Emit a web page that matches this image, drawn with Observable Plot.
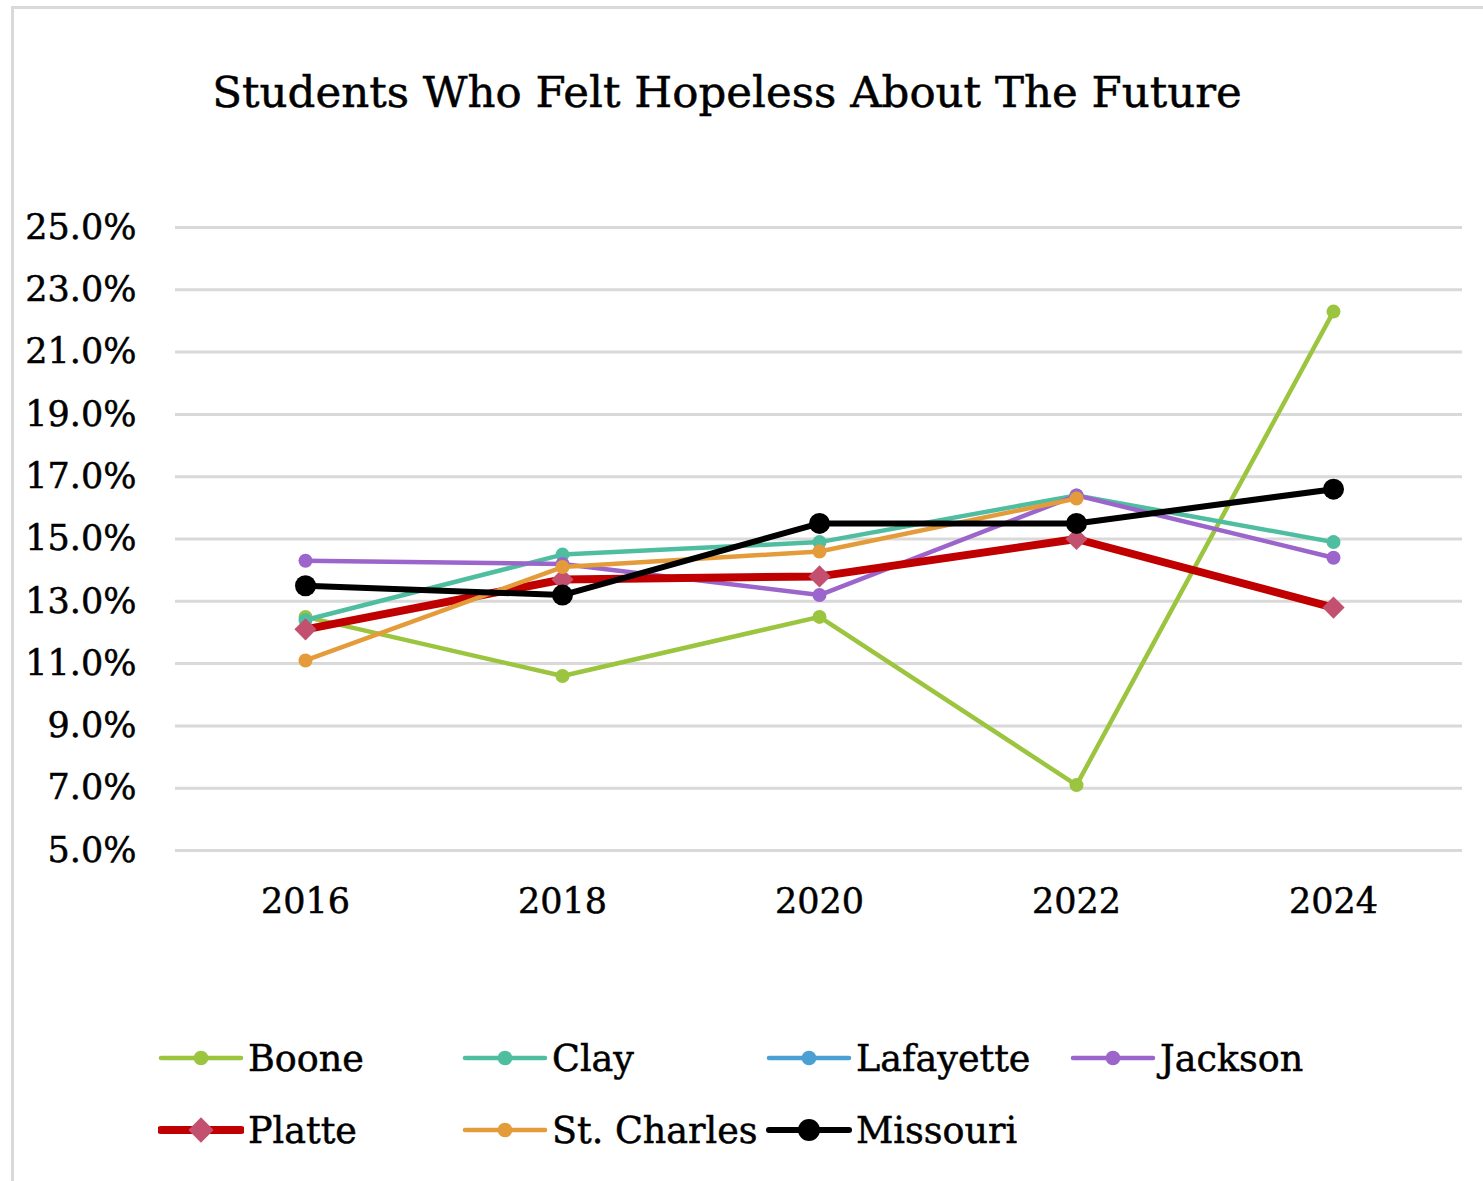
<!DOCTYPE html>
<html>
<head>
<meta charset="utf-8">
<script src="https://cdn.jsdelivr.net/npm/d3@7"></script>
<script src="https://cdn.jsdelivr.net/npm/@observablehq/plot@0.6"></script>
<style>
  html, body { margin: 0; padding: 0; background: #fff; }
  #frame { position: relative; width: 1483px; height: 1181px; overflow: hidden; font-family: "DejaVu Serif", serif; }
  #border { position: absolute; left: 11px; top: 6px; right: -10px; bottom: -10px; border-top: 3px solid #d9d9d9; border-left: 3px solid #d9d9d9; }
  #title { position: absolute; left: 0; width: 1454px; top: 67px; text-align: center; font-size: 43.5px; color: #000; white-space: nowrap; -webkit-text-stroke: 0.5px #000; }
  #chart { position: absolute; left: 0; top: 180px; }
  #chart svg text { stroke: #000; stroke-width: 0.5px; }
  #legend { position: absolute; left: 158px; top: 1036px; display: grid; grid-template-columns: 304px 304px 304px 304px; row-gap: 28px; }
  .item { display: flex; align-items: center; height: 44px; font-size: 36.5px; color: #000; white-space: nowrap; -webkit-text-stroke: 0.5px #000; }
  .item svg { margin-right: 4px; flex: none; }
</style>
</head>
<body>
<div id="frame">
  <div id="border"></div>
  <div id="title">Students Who Felt Hopeless About The Future</div>
  <div id="chart"></div>
  <div id="legend"></div>
</div>
<script>
const years = [2016, 2018, 2020, 2022, 2024];
const seriesNames = ["Boone", "Clay", "Lafayette", "Jackson", "Platte", "St. Charles", "Missouri"];
const boone     = [12.5, 10.6, 12.5, 7.1, 22.3];
const clay      = [12.4, 14.5, 14.9, 16.4, 14.9];
const lafayette = [null, null, null, null, null];
const jackson   = [14.3, 14.2, 13.2, 16.4, 14.4];
const platte    = [12.1, 13.7, 13.8, 15.0, 12.8];
const stCharles = [11.1, 14.1, 14.6, 16.3, null];
const missouri  = [13.5, 13.2, 15.5, 15.5, 16.6];
const yTicks = [5, 7, 9, 11, 13, 15, 17, 19, 21, 23, 25];

const values = {"Boone": boone, "Clay": clay, "Lafayette": lafayette, "Jackson": jackson,
  "Platte": platte, "St. Charles": stCharles, "Missouri": missouri};
const style = {
  "Boone":       {stroke: "#9bc43f", width: 4.5, dot: "#9bc43f", r: 7,    symbol: "circle"},
  "Clay":        {stroke: "#4fbea0", width: 4.5, dot: "#4fbea0", r: 7,    symbol: "circle"},
  "Lafayette":   {stroke: "#4a9fd3", width: 4.5, dot: "#4a9fd3", r: 7,    symbol: "circle"},
  "Jackson":     {stroke: "#9b65cc", width: 4.5, dot: "#9b65cc", r: 7,    symbol: "circle"},
  "Platte":      {stroke: "#c00000", width: 8,   dot: "#c4506f", r: 10,   symbol: "diamond2"},
  "St. Charles": {stroke: "#e49b3a", width: 4.5, dot: "#e49b3a", r: 7,    symbol: "circle"},
  "Missouri":    {stroke: "#000000", width: 6,   dot: "#000000", r: 10.5, symbol: "circle"}
};

const data = [];
for (const name of seriesNames) {
  values[name].forEach((v, i) => { if (v != null) data.push({series: name, year: years[i], value: v}); });
}

const marks = [
  Plot.ruleY(yTicks, {stroke: "#d9d9d9", strokeWidth: 3}),
  Plot.axisY({ticks: yTicks, tickSize: 0, tickPadding: 39, tickFormat: d => d.toFixed(1) + "%", fontSize: 35, fill: "#000"}),
  Plot.axisX({tickSize: 0, tickPadding: 38, tickFormat: d => String(d), fontSize: 35, fill: "#000"})
];
for (const name of seriesNames) {
  const s = style[name];
  const d = data.filter(e => e.series === name);
  marks.push(Plot.line(d, {x: "year", y: "value", stroke: s.stroke, strokeWidth: s.width, strokeLinejoin: "round", strokeLinecap: "round"}));
  marks.push(Plot.dot(d, {x: "year", y: "value", fill: s.dot, r: s.r, symbol: s.symbol, stroke: "none"}));
}

const chart = Plot.plot({
  width: 1483,
  height: 770,
  marginTop: 47,
  marginBottom: 100,
  marginLeft: 175,
  marginRight: 21,
  style: {fontFamily: "DejaVu Serif", background: "transparent", overflow: "visible"},
  x: {type: "point", domain: years, padding: 0.5, label: null},
  y: {domain: [5, 25], label: null},
  marks
});
document.getElementById("chart").appendChild(chart);

// legend
const legend = d3.select("#legend");
for (const name of seriesNames) {
  const s = style[name];
  const item = legend.append("div").attr("class", "item");
  const svg = item.append("svg").attr("width", 86).attr("height", 34);
  svg.append("line").attr("x1", 3).attr("x2", 83).attr("y1", 17).attr("y2", 17)
    .attr("stroke", s.stroke).attr("stroke-width", s.width).attr("stroke-linecap", "round");
  const isDiamond = s.symbol === "diamond2";
  const sym = isDiamond ? d3.symbolDiamond2 : d3.symbolCircle;
  const k = isDiamond ? 1.3 : 1.1;
  svg.append("path").attr("transform", "translate(43,17)")
    .attr("d", d3.symbol(sym, Math.PI * s.r * s.r * k)()).attr("fill", s.dot);
  item.append("span").text(name);
}
</script>
</body>
</html>
